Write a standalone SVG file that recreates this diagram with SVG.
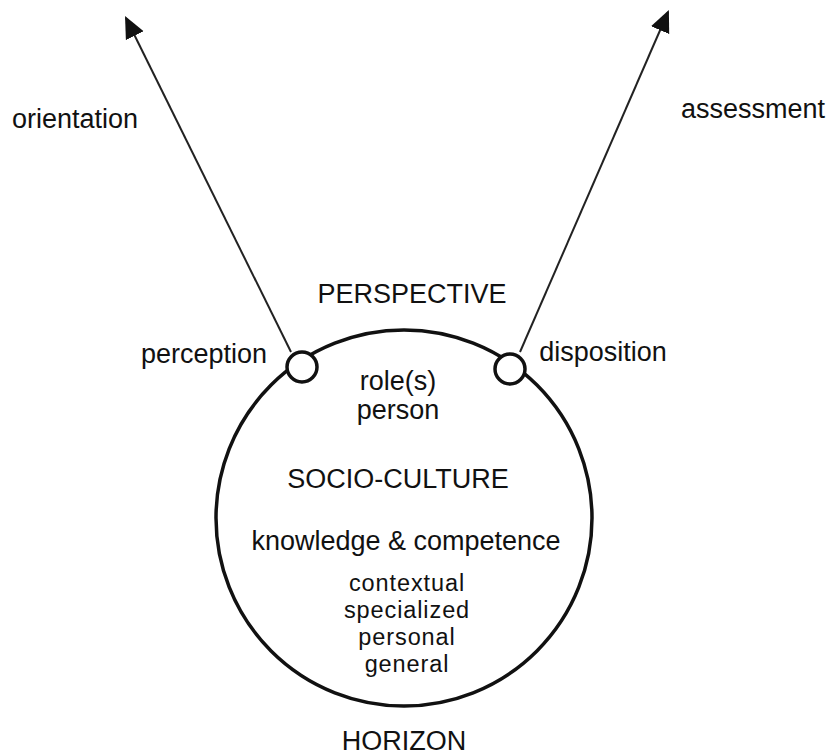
<svg xmlns="http://www.w3.org/2000/svg" width="829" height="755" viewBox="0 0 829 755">
<defs>
<style>
text{font-family:"Liberation Sans",Arial,sans-serif;font-size:27px;fill:#111;text-anchor:middle}
.list{font-size:23.5px;letter-spacing:0.9px}
.ring{fill:none;stroke:#111;stroke-width:3.5}
.small{fill:#fff;stroke:#111;stroke-width:3.5}
.arr{fill:none;stroke:#222;stroke-width:2}
</style>
<marker id="ah2" viewBox="0 0 20 20" refX="18" refY="10" markerWidth="22" markerHeight="22" markerUnits="userSpaceOnUse" orient="auto">
<path d="M0,1 L20,10 L0,19 z" fill="#111"/>
</marker>
</defs>
<g id="connectors">
<line class="arr" x1="291" y1="352" x2="126" y2="18" marker-end="url(#ah2)"/>
<line class="arr" x1="520" y1="352" x2="668" y2="12" marker-end="url(#ah2)"/>
</g>
<g id="main-circle">
<circle class="ring" cx="404" cy="518" r="188"/>
<text x="398" y="390">role(s)</text>
<text x="398" y="419">person</text>
<text x="398" y="488">SOCIO-CULTURE</text>
<text x="406" y="550">knowledge &amp; competence</text>
<text class="list" x="407" y="591">contextual</text>
<text class="list" x="407" y="618">specialized</text>
<text class="list" x="407" y="645">personal</text>
<text class="list" x="407" y="672">general</text>
</g>
<g id="perception-node">
<circle class="small" cx="302" cy="367" r="15"/>
<text x="204" y="363">perception</text>
</g>
<g id="disposition-node">
<circle class="small" cx="510" cy="369" r="15"/>
<text x="603" y="361">disposition</text>
</g>
<g id="labels">
<text x="75" y="128">orientation</text>
<text x="753" y="118">assessment</text>
<text x="412" y="303">PERSPECTIVE</text>
<text x="404" y="750">HORIZON</text>
</g>
</svg>
